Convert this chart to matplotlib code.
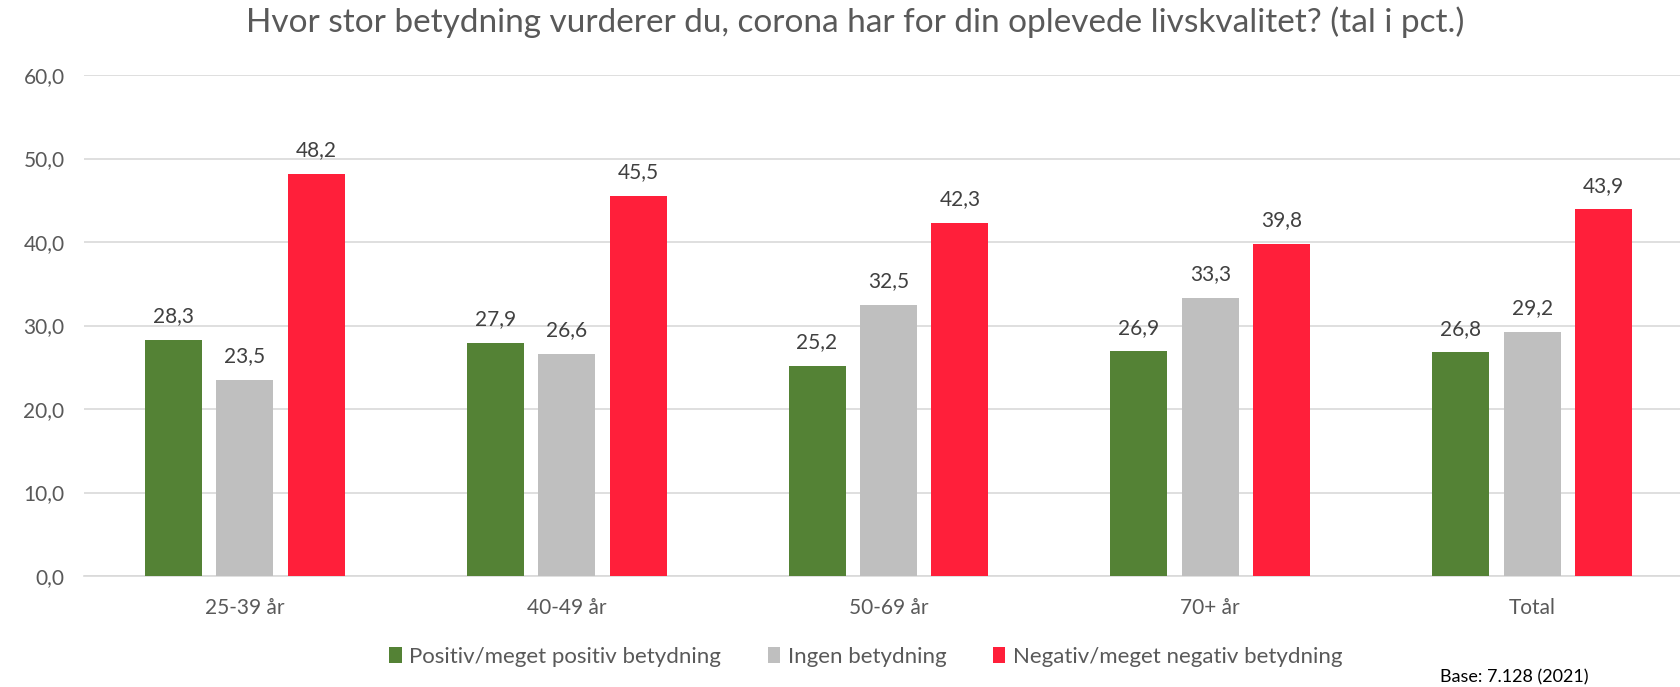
import matplotlib
matplotlib.use("Agg")
import matplotlib.pyplot as plt
import numpy as np
from matplotlib.patches import Patch

categories = ["25-39 år", "40-49 år", "50-69 år", "70+ år", "Total"]
series_names = ["Positiv/meget positiv betydning", "Ingen betydning", "Negativ/meget negativ betydning"]
positiv = [28.3, 27.9, 25.2, 26.9, 26.8]
ingen = [23.5, 26.6, 32.5, 33.3, 29.2]
negativ = [48.2, 45.5, 42.3, 39.8, 43.9]
yticks = [0, 10, 20, 30, 40, 50, 60]
title = "Hvor stor betydning vurderer du, corona har for din oplevede livskvalitet? (tal i pct.)"
note = "Base: 7.128 (2021)"

colors = ["#548235", "#BFBFBF", "#FF1F3A"]
plt.rcParams['font.family'] = ['Lato', 'DejaVu Sans']

fig = plt.figure(figsize=(16.81, 6.87), dpi=100)
ax = fig.add_axes([84/1681, 1-576/687, 1609/1681, (576-75)/687])

x = np.arange(len(categories))
width = 0.177
pitch = 0.222
for i, (vals, c) in enumerate(zip([positiv, ingen, negativ], colors)):
    bars = ax.bar(x + (i-1)*pitch, vals, width, color=c, zorder=3, label=series_names[i])
    for b, v in zip(bars, vals):
        ax.annotate(f"{v:.1f}".replace(".", ","), (b.get_x()+b.get_width()/2, v),
                    xytext=(0, 17), textcoords="offset points", ha="center", va="center",
                    fontsize=15, color="#404040")

ax.set_xlim(-0.5, len(categories)-0.5)
ax.set_ylim(0, 60)
ax.set_yticks(yticks)
ax.set_yticklabels([f"{t:.1f}".replace(".", ",") for t in yticks])
ax.set_xticks(x)
ax.set_xticklabels(categories)
ax.tick_params(axis="both", length=0, labelsize=15, labelcolor="#595959")
ax.tick_params(axis="y", pad=14)
ax.tick_params(axis="x", pad=16)
ax.grid(axis="y", color="#D9D9D9", linewidth=1.2, zorder=0)
for s in ["top", "right", "left"]:
    ax.spines[s].set_visible(False)
ax.spines["bottom"].set_color("#D9D9D9")
ax.spines["bottom"].set_linewidth(1.2)

fig.text(855/1681, 1-22/687, title, ha="center", va="center", fontsize=24, color="#595959")

handles = [Patch(facecolor=c, edgecolor="none") for c in colors]
fig.legend(handles, series_names, loc="center", bbox_to_anchor=(866/1681, 1-657/687),
           ncol=3, frameon=False, fontsize=16, labelcolor="#595959",
           handlelength=0.55, handleheight=0.75, handletextpad=0.35, columnspacing=2.1)

fig.text(1440/1681, 1-677/687, note, ha="left", va="center", fontsize=13, color="#000000")

fig.savefig("out.png", dpi=100)
